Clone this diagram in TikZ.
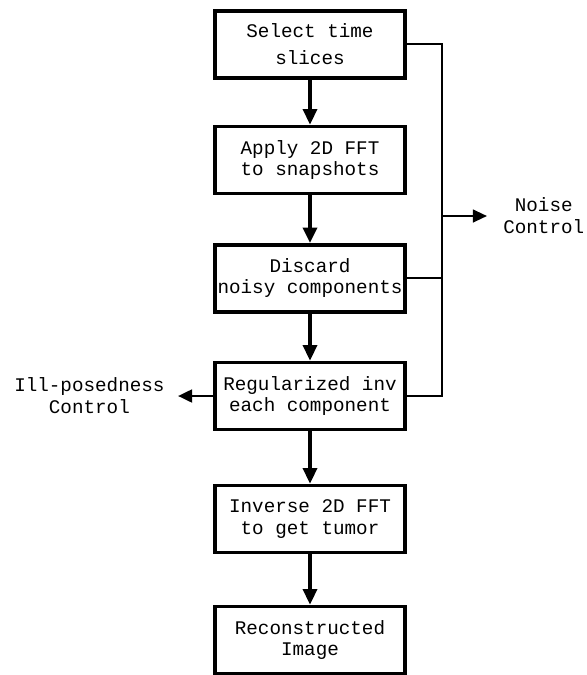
\documentclass[tikz,border=0pt]{standalone}
\usepackage{fontspec}
\setmainfont{Liberation Mono}
\usetikzlibrary{arrows.meta}

\begin{document}
\begin{tikzpicture}[
    box/.style={rectangle, draw, line width=2.6pt, minimum width=4.75cm, minimum height=1.68cm, inner xsep=0pt, align=center, font=\fontsize{13.7}{15}\selectfont},
    label/.style={align=center, font=\fontsize{13.7}{15.5}\selectfont},
    arrow/.style={-{Triangle[length=11pt,width=10pt]}, line width=2.4pt},
    side/.style={-{Triangle[length=10pt,width=9pt]}, line width=1.6pt},
    bus/.style={line width=1.4pt}
]
\useasboundingbox (0,0) rectangle (14.675,-16.875);

% Main pipeline
\node[box] (select) at (7.75,-1.11) {Select time\\[4pt]slices};
\node[box] (fft) at (7.75,-4.0) {Apply 2D FFT\\to snapshots};
\node[box] (discard) at (7.75,-6.96) {Discard\\noisy components};
\node[box] (reg) at (7.75,-9.9) {Regularized inv\\each component};
\node[box] (ifft) at (7.75,-12.975) {Inverse 2D FFT\\to get tumor};
\node[box] (image) at (7.75,-16.0) {Reconstructed\\Image};

% Side labels
\coordinate (busx) at (11.05,0);
\node[label, anchor=west, inner xsep=0.4cm] (noise) at (12.175,-5.4) {Noise\\Control};
\node[label, anchor=east, inner xsep=0.33cm] (ill) at (4.45,-9.9) {Ill-posedness\\Control};

% Arrows - pipeline
\draw[arrow] (select) -- (fft);
\draw[arrow] (fft) -- (discard);
\draw[arrow] (discard) -- (reg);
\draw[arrow] (reg) -- (ifft);
\draw[arrow] (ifft) -- (image);

% Noise control bus
\draw[bus] (select.east) -| (busx |- reg.east) -- (reg.east);
\draw[bus] (discard.east) -- (discard.east -| busx);
\draw[side] (busx |- noise.west) -- (noise.west);

% Ill-posedness arrow
\draw[side, line width=2pt] (reg.west) -- (ill.east);

\end{tikzpicture}
\end{document}
